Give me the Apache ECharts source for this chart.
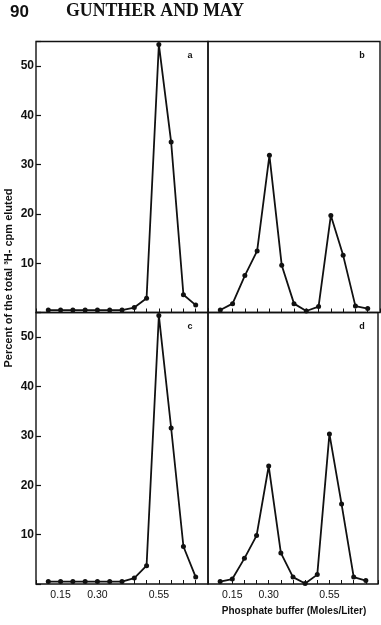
<!DOCTYPE html>
<html>
<head>
<meta charset="utf-8">
<script src="https://cdn.jsdelivr.net/npm/echarts@6/dist/echarts.min.js"></script>
<style>
  html, body { margin: 0; padding: 0; background: #fff; }
  #chart { width: 381px; height: 625px; }
</style>
</head>
<body>
<div id="chart"></div>
<script>
// phosphate buffer molarity of each fraction
const phosphate = [0.10, 0.15, 0.20, 0.25, 0.30, 0.35, 0.40, 0.45, 0.50, 0.55, 0.60, 0.65, 0.70]
// percent of total 3H cpm eluted, one array per panel
const panelA = [0.5, 0.5, 0.5, 0.5, 0.5, 0.5, 0.5, 1.0, 2.9, 54.4, 34.6, 3.6, 1.5]
const panelB = [0.5, 1.8, 7.5, 12.5, 31.9, 9.6, 1.8, 0.3, 1.2, 19.7, 11.6, 1.3, 0.8]
const panelC = [0.5, 0.5, 0.5, 0.5, 0.5, 0.5, 0.5, 1.2, 3.7, 54.4, 31.6, 7.6, 1.4]
const panelD = [0.5, 1.0, 5.2, 9.8, 23.9, 6.3, 1.4, 0.1, 1.9, 30.4, 16.2, 1.4, 0.7]
const xTickLabels = ['0.15', '0.30', '0.55']
const yTickLabels = [10, 20, 30, 40, 50]
const panelNames = ['a', 'b', 'c', 'd']

const sans = 'Liberation Sans'
const chart = echarts.init(document.getElementById('chart'))

// panel frames (px)
const boxes = [
  { left: 36, top: 41.5, width: 172, height: 271 },
  { left: 208, top: 41.5, width: 172, height: 271 },
  { left: 36, top: 312.5, width: 172, height: 271.5 },
  { left: 208, top: 312.5, width: 172, height: 271.5 }
]
const datasets = [panelA, panelB, panelC, panelD]

const grids = boxes.map(b => ({
  left: b.left, top: b.top, width: b.width, height: b.height,
  show: true, borderColor: '#111', borderWidth: 1.4, backgroundColor: 'transparent'
}))

const xAxes = boxes.map((b, i) => ({
  type: 'value',
  gridIndex: i,
  min: 0.05,
  max: 0.75,
  interval: 0.05,
  splitLine: { show: false },
  axisLine: { show: false },
  axisTick: { show: true, inside: true, length: 4, lineStyle: { color: '#111', width: 1 } },
  axisLabel: {
    show: i >= 2,
    margin: 6,
    color: '#111',
    fontFamily: sans,
    fontSize: 10.5,
    formatter: v => {
      const s = v.toFixed(2)
      return xTickLabels.includes(s) ? s : ''
    }
  }
}))

const yAxes = boxes.map((b, i) => ({
  type: 'value',
  gridIndex: i,
  min: 0,
  max: 55,
  interval: 10,
  splitLine: { show: false },
  axisLine: { show: false },
  axisTick: { show: i % 2 === 0, inside: true, length: 5, lineStyle: { color: '#111', width: 1.2 } },
  axisLabel: {
    show: i % 2 === 0,
    margin: 2,
    color: '#111',
    fontFamily: sans,
    fontWeight: 'bold',
    fontSize: 12,
    formatter: v => (yTickLabels.includes(v) ? String(v) : '')
  }
}))

const series = datasets.map((d, i) => ({
  type: 'line',
  xAxisIndex: i,
  yAxisIndex: i,
  data: phosphate.map((x, k) => [x, d[k]]),
  symbol: 'circle',
  symbolSize: 5,
  lineStyle: { color: '#111', width: 1.8 },
  itemStyle: { color: '#111' },
  animation: false
}))

const graphics = [
  { type: 'text', left: 10, top: 4, style: { text: '90', font: 'bold 17px "Liberation Sans"', fill: '#111' } },
  { type: 'text', left: 66, top: 2, style: { text: 'GUNTHER AND MAY', font: 'bold 17.8px "Liberation Serif"', fill: '#111' } },
  {
    type: 'text', x: 9, y: 278, rotation: Math.PI / 2,
    style: {
      text: 'Percent of the total \u00b3H- cpm eluted',
      font: 'bold 11px "Liberation Sans"', fill: '#111',
      align: 'center', verticalAlign: 'middle'
    }
  },
  {
    type: 'text', x: 294, y: 611,
    style: {
      text: 'Phosphate buffer (Moles/Liter)',
      font: 'bold 10px "Liberation Sans"', fill: '#111',
      align: 'center', verticalAlign: 'middle'
    }
  }
].concat(boxes.map((b, i) => ({
  type: 'text', x: b.left + b.width - 18, y: b.top + 14,
  style: { text: panelNames[i], font: 'bold 9px "Liberation Sans"', fill: '#111', align: 'center', verticalAlign: 'middle' }
})))

chart.setOption({
  animation: false,
  grid: grids,
  xAxis: xAxes,
  yAxis: yAxes,
  series: series,
  graphic: graphics
})
</script>
</body>
</html>
